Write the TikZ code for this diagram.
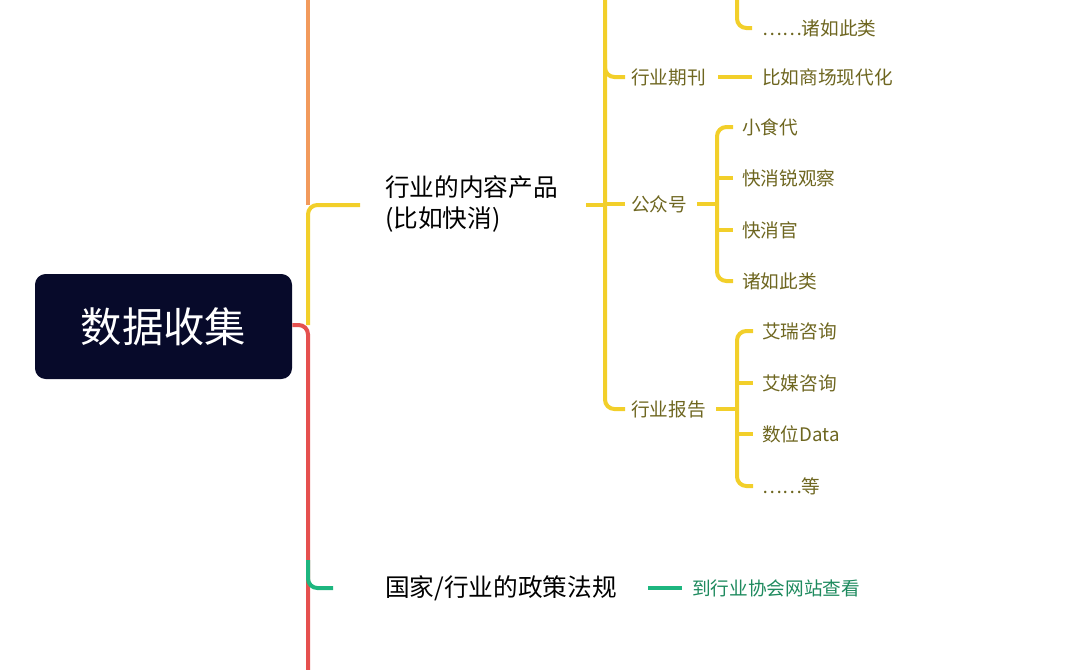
\documentclass[tikz,border=0pt]{standalone}
\usepackage{fontspec}
\newfontfamily\cjk{Noto Sans CJK SC}
\definecolor{navy}{HTML}{070A2A}
\definecolor{ylw}{HTML}{F2CF2A}
\definecolor{org}{HTML}{F29A5C}
\definecolor{rd}{HTML}{E5504E}
\definecolor{grn}{HTML}{1DB67F}
\definecolor{olive}{HTML}{6E6620}
\definecolor{dgrn}{HTML}{1E8A5E}
\begin{document}
\begin{tikzpicture}[x=0.75pt,y=-0.75pt,
  ln/.style={line width=3pt,rounded corners=7pt},
  main/.style={anchor=west,inner sep=0pt,font=\cjk\fontsize{18.5}{23}\selectfont,text=black,align=left},
  sub/.style={anchor=west,inner sep=0pt,font=\cjk\fontsize{14}{17}\selectfont,text=olive},
  leaf/.style={anchor=west,inner sep=0pt,font=\cjk\fontsize{14}{17}\selectfont,text=olive}]
\useasboundingbox (0,0) rectangle (1080,669);
% root
\node[fill=navy,rounded corners=8pt,minimum width=192.75pt,minimum height=78.75pt,inner sep=0pt,
  font=\cjk\fontsize{31}{36}\selectfont,text=white] (root) at (163.5,326.5) {数据收集};
% trunk
\draw[ln,org] (308,-5) -- (308,205);
\draw[ln,ylw] (308,325) -- (308,205) -- (360,205);
\draw[ln,rd] (root.east|-0,325) -- (308,325) -- (308,675);
\draw[ln,grn] (308,560) -- (308,588) -- (333,588);
% main nodes
\node[main] (content) at (385,204) {行业的内容产品\\(比如快消)};
\node[main] (policy) at (385,588) {国家/行业的政策法规};
\node[anchor=west,inner sep=0pt,font=\cjk\fontsize{14}{17}\selectfont,text=dgrn] (site) at (692,588) {到行业协会网站查看};
\draw[ln,grn] (648,588) -- (site.west-|682,0);
% second level
\node[sub] (journal) at (631,77) {行业期刊};
\node[sub] (wechat) at (631,204) {公众号};
\node[sub] (report) at (631,409) {行业报告};
\draw[ln,ylw] (586,205) -- (605,205);
\draw[ln,ylw] (605,-5) -- (605,409) -- (625,409);
\draw[ln,ylw] (605,60) -- (605,77) -- (625,77);
\draw[ln,ylw] (605,204) -- (625,204);
% journal
\node[leaf] (mall) at (762,77) {比如商场现代化};
\draw[ln,ylw] (718,77) -- (mall.west-|752,0);
\node[leaf] (etc1) at (762,28) {……诸如此类};
\draw[ln,ylw] (737,-5) -- (737,28) -- (752,28);
% wechat
\node[leaf] (w1) at (742,127) {小食代};
\node[leaf] (w2) at (742,178) {快消锐观察};
\node[leaf] (w3) at (742,230) {快消官};
\node[leaf] (w4) at (742,281) {诸如此类};
\draw[ln,ylw] (697,204) -- (717,204);
\draw[ln,ylw] (733,127) -- (717,127) -- (717,281) -- (733,281);
\draw[ln,ylw] (717,178) -- (733,178);
\draw[ln,ylw] (717,230) -- (733,230);
% report
\node[leaf] (r1) at (762,331) {艾瑞咨询};
\node[leaf] (r2) at (762,383) {艾媒咨询};
\node[leaf] (r3) at (762,434) {数位Data};
\node[leaf] (r4) at (762,486) {……等};
\draw[ln,ylw] (716,409) -- (737,409);
\draw[ln,ylw] (753,331) -- (737,331) -- (737,486) -- (753,486);
\draw[ln,ylw] (737,383) -- (753,383);
\draw[ln,ylw] (737,434) -- (753,434);
\end{tikzpicture}
\end{document}
